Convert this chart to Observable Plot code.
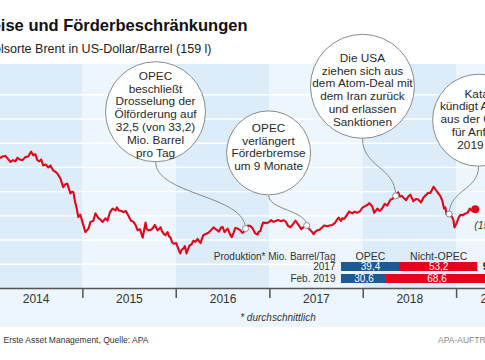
<!DOCTYPE html>
<html><head><meta charset="utf-8">
<script src="https://cdn.jsdelivr.net/npm/d3@7"></script>
<script src="https://cdn.jsdelivr.net/npm/@observablehq/plot@0.6"></script>
<style>
html,body{margin:0;padding:0;background:#fff;overflow:hidden;}
#wrap{position:relative;width:485px;height:360px;}
#wrap svg{position:absolute;left:0;top:0;}
</style></head><body><div id="wrap"></div>
<script>
// ---------- data ----------
const titleText = "Ölpreise und Förderbeschränkungen";
const subtitleText = "Rohölsorte Brent in US-Dollar/Barrel (159 l)";
const footerText = "Erste Asset Management, Quelle: APA";
const creditText = "APA-AUFTRAGSGRAFIK";
const noteText = "* durchschnittlich";
const lastLabel = "(15.3.)";

const priceDates = ["2014-02-13","2014-02-21","2014-03-04","2014-03-14","2014-03-24","2014-04-03","2014-04-12","2014-04-20","2014-04-30","2014-05-10","2014-05-21","2014-06-01","2014-06-13","2014-06-21","2014-06-29","2014-07-07","2014-07-15","2014-07-22","2014-07-30","2014-08-08","2014-08-19","2014-08-27","2014-09-07","2014-09-15","2014-09-23","2014-10-05","2014-10-16","2014-10-24","2014-11-01","2014-11-13","2014-11-20","2014-11-25","2014-12-01","2014-12-08","2014-12-14","2014-12-22","2014-12-30",
"2015-01-11","2015-01-23","2015-01-31","2015-02-11","2015-02-19","2015-03-03","2015-03-10","2015-03-19","2015-03-31","2015-04-07","2015-04-17","2015-04-27","2015-05-09","2015-05-14","2015-05-21","2015-06-01","2015-06-09","2015-06-18","2015-06-28","2015-07-08","2015-07-18","2015-07-27","2015-08-03","2015-08-12","2015-08-23","2015-09-03","2015-09-08","2015-09-15","2015-09-25","2015-10-04","2015-10-09","2015-10-20","2015-11-01","2015-11-06","2015-11-12","2015-11-20","2015-11-28","2015-12-04","2015-12-10","2015-12-16","2015-12-22",
"2016-01-01","2016-01-07","2016-01-12","2016-01-17","2016-01-22","2016-01-29","2016-02-04","2016-02-10","2016-02-16","2016-02-22","2016-03-01","2016-03-08","2016-03-16","2016-03-24","2016-04-01","2016-04-05","2016-04-12","2016-04-16","2016-04-25","2016-05-06","2016-05-15","2016-05-26","2016-06-03","2016-06-10","2016-06-16","2016-06-23","2016-06-30","2016-07-08","2016-07-20","2016-07-31","2016-08-05","2016-08-12","2016-08-19","2016-08-28","2016-09-08","2016-09-15","2016-09-20","2016-09-28","2016-10-07","2016-10-17","2016-10-25","2016-11-05","2016-11-14","2016-11-17","2016-11-25","2016-12-01","2016-12-06","2016-12-15","2016-12-26",
"2017-01-06","2017-01-15","2017-01-25","2017-02-04","2017-02-14","2017-02-23","2017-03-03","2017-03-14","2017-03-22","2017-04-03","2017-04-11","2017-04-23","2017-05-04","2017-05-12","2017-05-25","2017-06-02","2017-06-09","2017-06-16","2017-06-21","2017-06-28","2017-07-05","2017-07-14","2017-07-25","2017-08-01","2017-08-13","2017-08-22","2017-09-02","2017-09-12","2017-09-21","2017-09-27","2017-10-06","2017-10-11","2017-10-19","2017-10-30","2017-11-07","2017-11-19","2017-11-28","2017-12-08","2017-12-18","2017-12-28",
"2018-01-08","2018-01-17","2018-01-25","2018-02-05","2018-02-13","2018-02-25","2018-03-06","2018-03-16","2018-03-26","2018-04-05","2018-04-18","2018-04-25","2018-05-08","2018-05-17","2018-05-25","2018-06-01","2018-06-07","2018-06-18","2018-06-26","2018-07-04","2018-07-16","2018-07-26","2018-08-04","2018-08-15","2018-08-24","2018-09-04","2018-09-12","2018-09-21","2018-10-03","2018-10-10","2018-10-18","2018-10-29","2018-11-06","2018-11-13","2018-11-18","2018-11-23","2018-12-03","2018-12-10","2018-12-19","2018-12-24",
"2019-01-01","2019-01-08","2019-01-16","2019-01-25","2019-02-05","2019-02-13","2019-02-21","2019-02-28","2019-03-08","2019-03-15"];
const priceValues = [108,109,109.5,107,104.5,106,105,108,106.5,106,108.5,109,113,110,111,106,105,106.5,101.6,102.5,100,101.6,97.5,96.5,95,91,83.7,86,86.7,78.5,80,79.6,72,66,59,61,55,
46.5,49.5,55,56,62,58,57,55,58,56,63,66,64.5,67,64.5,64,63,64,60,56,55,52,48,49,42,54.5,49,48,48.5,50.6,52.5,48,50.6,47.5,45.5,44,46.5,43,42,38,37,
37.5,34,31,29,32,33,35,29,32.5,35.5,36.5,39.5,38.5,41,38.5,37.5,42,44,45,46,48,50.5,49,48,47,50,51,46.5,49.5,44,42.5,46,50,49.5,48,46,46.5,49.5,52,51.5,50,45.5,44.5,46.5,47.5,52,54.5,54,54.5,
56.5,55,56,56.5,55.5,56.5,55.5,51.5,50.5,53.5,56,52.5,49,50.5,52,49.5,48,46.5,44.8,47,48,48.5,50.5,52,51.5,52,52.5,54,57,58.5,55.8,58,57.5,61,63.5,62,63.5,62.5,63.5,66.5,
68,69,70.5,68,62.5,66,64,66,70,68.5,73.5,74,76.5,79.5,76,76.5,75,73,76,77.5,72,74,73.5,71,75,77.5,79,79,84,82,79.5,76.5,72.5,66,67,61,61.5,60.5,57,50.5,
54,58,61,60.5,62,62.5,66,64.5,64,65.5];

const yearStarts = ["2014-01-01","2015-01-01","2016-01-01","2017-01-01","2018-01-01","2019-01-01","2020-01-01"];
const yearLabels = ["2014","2015","2016","2017","2018","2019"];
const yearLabelDates = ["2014-07-02","2015-07-02","2016-07-02","2017-07-02","2018-07-02","2019-05-27"];
const gridValues = [20,40,60,80,100,120,140,160];

const calloutTexts = [
  "OPEC\nbeschließt\nDrosselung der\nÖlförderung auf\n32,5 (von 33,2)\nMio. Barrel\npro Tag",
  "OPEC\nverlängert\nFörderbremse\num 9 Monate",
  "Die USA\nziehen sich aus\ndem Atom-Deal mit\ndem Iran zurück\nund erlassen\nSanktionen",
  "Katar\nkündigt Austritt\naus der OPEC\nfür Anfang\n2019 an"
];
const calloutEventDates = ["2016-09-28","2017-05-25","2018-05-08","2018-12-03"];

const prodRows = ["2017","Feb. 2019"];
const opecValues = [39.4, 30.6];
const nonOpecValues = [53.2, 68.6];
const prodHeader = "Produktion* Mio. Barrel/Tag";
const prodColumns = ["OPEC","Nicht-OPEC"];

// ---------- layout / style ----------
const W = 485, H = 360, MT = 64, MB = 72, YMAX = 185;
const k = (H - MT - MB) / YMAX;              // px per dollar
const X0 = new Date("2014-02-13"), X1 = new Date("2019-04-24");
const RED = "#e3061a", BLUE = "#1d5a94", DARK = "#dcedf9", LIGHT = "#edf6fd";
const FONT = "'Liberation Sans', Arial, sans-serif";
// callout placement (centre date, centre value, radius px, text offset px)
const calloutLayout = [
  {cx: "2015-10-12", cy: 146, r: 50, tdy: 2.5},
  {cx: "2016-12-27", cy: 112, r: 42, tdy: -6},
  {cx: "2017-12-29", cy: 167, r: 52, tdy: 3.5},
  {cx: "2019-03-28", cy: 139, r: 46, tdy: -1}
];

// ---------- derived tables ----------
const prices = priceDates.map((d, i) => ({date: new Date(d), value: priceValues[i]}));
const priceAt = d => prices.find(p => +p.date === +new Date(d)).value;
const callouts = calloutTexts.map((t, i) => ({
  text: t,
  cx: new Date(calloutLayout[i].cx), cy: calloutLayout[i].cy, r: calloutLayout[i].r, tdy: calloutLayout[i].tdy,
  ed: new Date(calloutEventDates[i]), ev: priceAt(calloutEventDates[i])
}));
const bands = yearStarts.slice(0, -1).map((d, i) => ({x1: new Date(d), x2: new Date(yearStarts[i + 1]), fill: i % 2 ? LIGHT : DARK}));
const last = prices[prices.length - 1];
const fmt = v => v.toFixed(1).replace(".", ",");

const main = Plot.plot({
  width: W, height: H, marginTop: MT, marginBottom: MB, marginLeft: 0, marginRight: 0,
  x: {type: "utc", domain: [X0, X1], axis: null},
  y: {domain: [0, YMAX], axis: null},
  r: {type: "identity"},
  style: {fontFamily: FONT, background: "transparent"},
  marks: [
    Plot.rect([0], {x1: () => X0, x2: () => X1, y1: 0, y2: -39 / k, fill: LIGHT}),
    Plot.rect(bands, {x1: "x1", x2: "x2", y1: 0, y2: YMAX, fill: "fill", clip: true}),
    Plot.ruleY(gridValues, {stroke: "white", strokeWidth: 1.4}),
    Plot.ruleY([0], {stroke: "#555", strokeWidth: 1.5}),
    Plot.ruleX(yearStarts.slice(1, -1), {x: d => new Date(d), y1: 0, y2: -10 / k, stroke: "#555", strokeWidth: 1.5}),
    Plot.text(yearLabels, {x: (d, i) => new Date(yearLabelDates[i]), text: d => d, frameAnchor: "bottom", dy: 14, fontSize: 12, fill: "#333"}),
    Plot.line(prices, {x: "date", y: "value", stroke: RED, strokeWidth: 2.1, clip: true}),
    Plot.link(callouts, {x1: "cx", y1: d => d.cy - d.r / k, x2: "ed", y2: "ev", curve: "bump-y", stroke: "#8a8a8a", strokeWidth: 1}),
    Plot.dot(callouts, {x: "cx", y: "cy", r: "r", fill: "white", fillOpacity: 0.92, stroke: "#8a8a8a", strokeWidth: 1}),
    Plot.text(callouts, {x: "cx", y: d => d.cy - d.tdy / k, text: "text", fontSize: 11.8, lineHeight: 1.09, fill: "#2a2a2a"}),
    Plot.dot(callouts, {x: "ed", y: "ev", r: 3, fill: "white", stroke: "#8a8a8a", strokeWidth: 1}),
    Plot.dot([last], {x: "date", y: "value", r: 4, fill: RED}),
    Plot.text([last], {x: "date", y: "value", text: () => lastLabel, dy: 16, dx: -1, textAnchor: "start", fontStyle: "italic", fontSize: 10.5, fill: "#333"}),
    Plot.text([titleText], {frameAnchor: "top-left", dx: 247, dy: -45.5, textAnchor: "end", fontSize: 16.5, fontWeight: "bold", fill: "#111"}),
    Plot.text([subtitleText], {frameAnchor: "top-left", dx: 211, dy: -20.5, textAnchor: "end", fontSize: 12.5, fill: "#222"}),
    Plot.text([noteText], {frameAnchor: "bottom", dx: 35, dy: 32.5, fontSize: 10, fontStyle: "italic", fill: "#333"}),
    Plot.text([footerText], {frameAnchor: "bottom-left", dx: 3, dy: 54, textAnchor: "start", fontSize: 8.5, fill: "#333"}),
    Plot.text([creditText], {frameAnchor: "bottom-left", dx: 437.5, dy: 54.5, textAnchor: "start", fontSize: 8.5, fill: "#888"})
  ]
});

const rows = prodRows.map((r, i) => ({row: r, opec: opecValues[i], non: nonOpecValues[i]}));
const table = Plot.plot({
  width: W, height: H, marginLeft: 341, marginRight: 0, marginTop: 258.2, marginBottom: 74.3,
  x: {domain: [0, 144 / 1.472], axis: null},
  y: {domain: prodRows, axis: null, padding: 0.29},
  style: {fontFamily: FONT, background: "transparent"},
  marks: [
    Plot.barX(rows, {y: "row", x1: 0, x2: "opec", fill: BLUE}),
    Plot.barX(rows, {y: "row", x1: "opec", x2: d => d.opec + d.non, fill: RED}),
    Plot.text(rows, {y: "row", x: d => d.opec / 2, text: d => fmt(d.opec), fill: "white", fontSize: 10}),
    Plot.text(rows, {y: "row", x: d => d.opec + d.non / 2, text: d => fmt(d.non), fill: "white", fontSize: 10}),
    Plot.text(rows, {y: "row", x: 0, text: "row", textAnchor: "end", dx: -6, fill: "#333", fontSize: 10}),
    Plot.text(rows, {y: "row", x: d => d.opec + d.non, text: d => fmt(d.opec + d.non), textAnchor: "start", dx: 5, fontWeight: "bold", fill: "#111", fontSize: 10.5}),
    Plot.text([prodHeader], {x: 0, frameAnchor: "top", dx: -6, dy: -6, textAnchor: "end", fill: "#333", fontSize: 10}),
    Plot.text(prodColumns, {x: (d, i) => i === 0 ? opecValues[0] / 2 : opecValues[0] + nonOpecValues[0] / 2, text: d => d, frameAnchor: "top", dy: -6, fill: "#333", fontSize: 10.5})
  ]
});

const wrap = document.getElementById("wrap");
wrap.appendChild(main);
wrap.appendChild(table);
</script></body></html>
